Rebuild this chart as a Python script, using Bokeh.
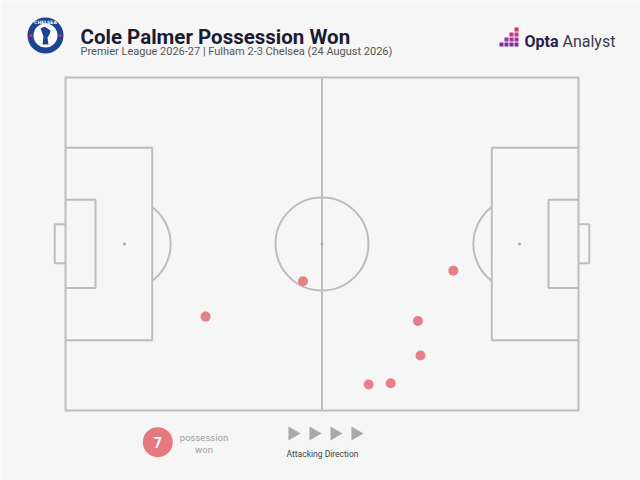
import numpy as np
from bokeh.plotting import figure
from bokeh.models import Range1d
from bokeh.core.properties import value
from bokeh.embed import file_html
from bokeh.resources import INLINE

# ---- data (Opta pitch coordinates, 0-100) ----
won_x = [27.3, 46.3, 75.6, 68.7, 69.2, 63.4, 59.1]
won_y = [28.2, 38.8, 42.0, 26.9, 16.5, 8.2, 7.8]
title = "Cole Palmer Possession Won"
subtitle = "Premier League 2026-27 | Fulham 2-3 Chelsea (24 August 2026)"
legend_label = ["possession", "won"]
direction_label = "Attacking Direction"

# ---- layout ----
W, H = 640, 480
SX, SY = 5.13, 3.33          # px per pitch unit
X0 = -65 / SX
X1 = X0 + W / SX
Y1 = 100 + 77 / SY
Y0 = Y1 - H / SY

def fx(px):  # image pixel -> data x
    return X0 + px / SX

def fy(py):
    return Y1 - py / SY

BG = "#f6f6f6"
LINE = "#bdbdbd"
DOT = "#e47a80"

p = figure(width=W, height=H, output_backend="svg", toolbar_location=None,
           x_range=Range1d(X0, X1), y_range=Range1d(Y0, Y1),
           x_axis_location=None, y_axis_location=None, min_border=0)
p.grid.visible = False
p.outline_line_color = None
p.background_fill_color = BG
p.border_fill_color = BG

lw = 2
# outer pitch
p.line([0, 100, 100, 0, 0], [0, 0, 100, 100, 0], line_color=LINE, line_width=lw)
p.line([50, 50], [0, 100], line_color=LINE, line_width=lw)
# penalty boxes
p.line([0, 16.9, 16.9, 0], [21.1, 21.1, 78.9, 78.9], line_color=LINE, line_width=lw)
p.line([100, 83.1, 83.1, 100], [21.1, 21.1, 78.9, 78.9], line_color=LINE, line_width=lw)
# six-yard boxes
p.line([0, 5.85, 5.85, 0], [36.8, 36.8, 63.3, 63.3], line_color=LINE, line_width=lw)
p.line([100, 94.15, 94.15, 100], [36.8, 36.8, 63.3, 63.3], line_color=LINE, line_width=lw)
# goals
p.line([0, -2.1, -2.1, 0], [44.2, 44.2, 55.9, 55.9], line_color=LINE, line_width=lw)
p.line([100, 102.1, 102.1, 100], [44.2, 44.2, 55.9, 55.9], line_color=LINE, line_width=lw)
# centre circle
p.circle(x=[50], y=[50], radius=9.06, radius_dimension="x",
         fill_color=None, line_color=LINE, line_width=lw)
# penalty arcs
a = np.arccos(5.4 / 9.0)
p.arc(x=[11.5], y=[50], radius=9.0, start_angle=-a, end_angle=a,
      line_color=LINE, line_width=lw)
p.arc(x=[88.5], y=[50], radius=9.0, start_angle=np.pi - a, end_angle=np.pi + a,
      line_color=LINE, line_width=lw)
# spots
p.scatter(x=[11.5, 50, 88.5], y=[50, 50, 50], size=3, color="#aaaaaa", line_color=None)

# possession won points
p.scatter(x=won_x, y=won_y, size=10, fill_color=DOT, line_color=None, fill_alpha=0.95)

# ---- header ----
p.text(x=[fx(80)], y=[fy(36)], text=[title], text_font=value("Roboto"),
       text_font_style="bold", text_font_size="20.5px", text_color="#1b1b33",
       text_baseline="alphabetic", text_align="left")
p.text(x=[fx(80)], y=[fy(51)], text=[subtitle], text_font=value("Roboto"),
       text_font_size="11px", text_color="#555555",
       text_baseline="alphabetic", text_align="left")

# Chelsea badge (approximation)
bx, by = fx(45), fy(35)
p.circle(x=[bx], y=[by], radius=18 / SX, radius_dimension="x",
         fill_color="#1d4394", line_color=None)
p.circle(x=[bx], y=[by], radius=12 / SX, radius_dimension="x",
         fill_color="white", line_color=None)
p.scatter(x=[fx(30.5), fx(59.5)], y=[by, by], size=3, color="#d8323c", line_color=None)
p.text(x=[bx], y=[fy(21.5)], text=["CHELSEA"], text_font=value("DejaVu Sans"),
       text_font_style="bold", text_font_size="4.5px", text_color="white",
       text_align="center", text_baseline="middle")
p.patch(x=[fx(40), fx(44), fx(47), fx(50), fx(49), fx(47), fx(48), fx(42), fx(43)],
        y=[fy(28), fy(26), fy(28), fy(30), fy(34), fy(37), fy(44), fy(44), fy(36)],
        fill_color="#1d4394", line_color=None)

# Opta Analyst logo
sq_x, sq_y, sq_c = [], [], []
cols = [(501, 1), (506, 2), (511, 3), (516, 4)]
grad = ["#7b2f9e", "#a63191", "#c93378", "#e0325a"]
for cx, n in cols:
    for k in range(n):
        sq_x.append(fx(cx))
        sq_y.append(fy(44 - 5 * k))
        sq_c.append(grad[k])
p.scatter(x=sq_x, y=sq_y, marker="square", size=4, fill_color=sq_c, line_color=None)
p.text(x=[fx(524)], y=[fy(41)], text=["Opta"], text_font=value("Roboto"),
       text_font_style="bold", text_font_size="16px", text_color="#2b1d4e",
       text_baseline="alphabetic")
p.text(x=[fx(562)], y=[fy(41)], text=["Analyst"], text_font=value("Roboto"),
       text_font_size="16px", text_color="#3b3b4d", text_baseline="alphabetic")

# ---- legend ----
p.circle(x=[fx(157.3)], y=[fy(441.7)], radius=15 / SX, radius_dimension="x",
         fill_color=DOT, line_color=None)
p.text(x=[fx(157.3)], y=[fy(442)], text=[str(len(won_x))], text_font=value("Roboto"),
       text_font_style="bold", text_font_size="14px", text_color="white",
       text_align="center", text_baseline="middle")
p.text(x=[fx(203.5), fx(203.5)], y=[fy(436.5), fy(448.5)], text=legend_label,
       text_font=value("Roboto"), text_font_size="9.5px", text_color="#a0a0a0",
       text_align="center", text_baseline="middle")

tri_x = [fx(292), fx(313), fx(334), fx(355)]
p.scatter(x=tri_x, y=[fy(433)] * 4, marker="triangle", size=14, angle=-np.pi / 2,
          fill_color="#aaaaaa", line_color=None)
p.text(x=[fx(322)], y=[fy(453.5)], text=[direction_label], text_font=value("Roboto"),
       text_font_size="8.5px", text_color="#444444",
       text_align="center", text_baseline="middle")

open("out.html", "w").write(file_html(p, INLINE))
